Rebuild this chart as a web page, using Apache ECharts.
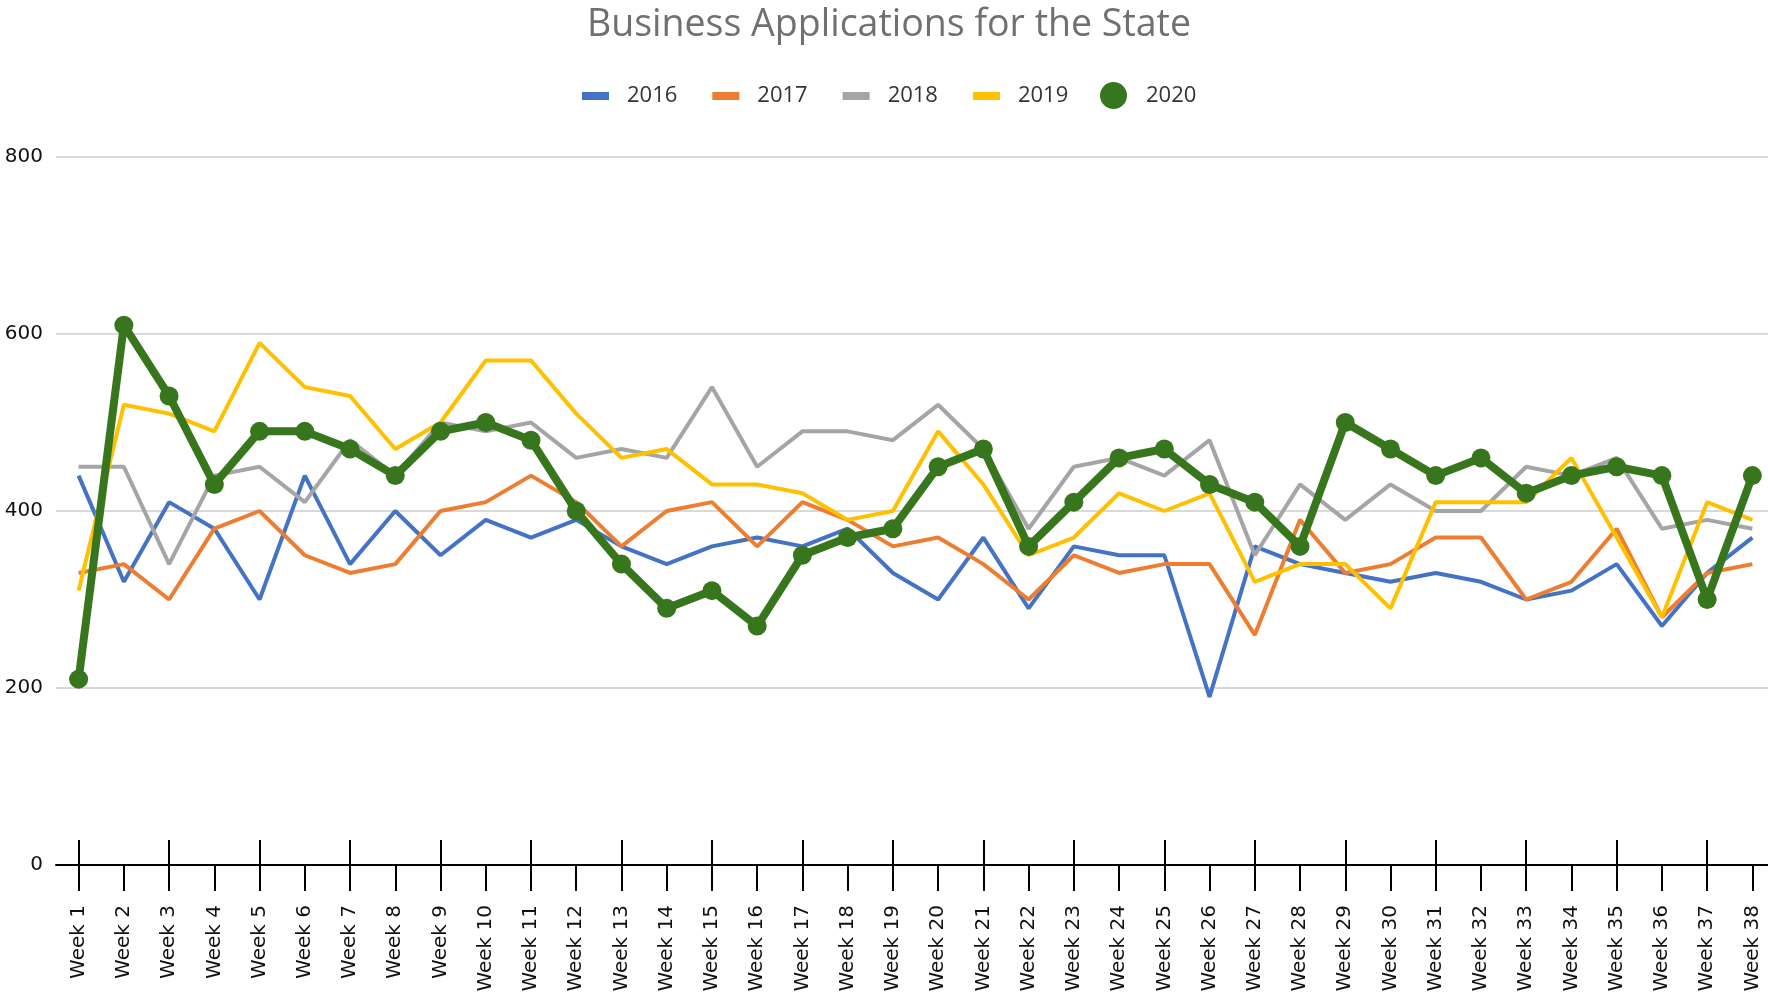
<!DOCTYPE html>
<html>
<head>
<meta charset="utf-8">
<title>Business Applications for the State</title>
<script src="https://cdn.jsdelivr.net/npm/echarts@6/dist/echarts.min.js"></script>
<style>
    html,
    body {
        margin: 0;
        padding: 0;
        background: #fff;
    }
    #chart {
        width: 1768px;
        height: 994px;
    }
</style>
</head>
<body>
<div id="chart"></div>
<script>
// x轴 分类
let weeks = ["Week 1", "Week 2", "Week 3", "Week 4", "Week 5", "Week 6", "Week 7", "Week 8", "Week 9", "Week 10",
    "Week 11", "Week 12", "Week 13", "Week 14", "Week 15", "Week 16", "Week 17", "Week 18", "Week 19", "Week 20",
    "Week 21", "Week 22", "Week 23", "Week 24", "Week 25", "Week 26", "Week 27", "Week 28", "Week 29", "Week 30",
    "Week 31", "Week 32", "Week 33", "Week 34", "Week 35", "Week 36", "Week 37", "Week 38"];

// 每年的数据
let data2016 = [440, 320, 410, 380, 300, 440, 340, 400, 350, 390, 370, 390, 360, 340, 360, 370, 360, 380, 330,
    300, 370, 290, 360, 350, 350, 190, 360, 340, 330, 320, 330, 320, 300, 310, 340, 270, 330, 370];
let data2017 = [330, 340, 300, 380, 400, 350, 330, 340, 400, 410, 440, 410, 360, 400, 410, 360, 410, 390, 360,
    370, 340, 300, 350, 330, 340, 340, 260, 390, 330, 340, 370, 370, 300, 320, 380, 280, 330, 340];
let data2018 = [450, 450, 340, 440, 450, 410, 480, 440, 500, 490, 500, 460, 470, 460, 540, 450, 490, 490, 480,
    520, 470, 380, 450, 460, 440, 480, 350, 430, 390, 430, 400, 400, 450, 440, 460, 380, 390, 380];
let data2019 = [310, 520, 510, 490, 590, 540, 530, 470, 500, 570, 570, 510, 460, 470, 430, 430, 420, 390, 400,
    490, 430, 350, 370, 420, 400, 420, 320, 340, 340, 290, 410, 410, 410, 460, 370, 280, 410, 390];
let data2020 = [210, 610, 530, 430, 490, 490, 470, 440, 490, 500, 480, 400, 340, 290, 310, 270, 350, 370, 380,
    450, 470, 360, 410, 460, 470, 430, 410, 360, 500, 470, 440, 460, 420, 440, 450, 440, 300, 440];

// y轴刻度
let yTicks = [0, 200, 400, 600, 800];

let colors = {
    "2016": "#4472C4",
    "2017": "#ED7D31",
    "2018": "#A5A5A5",
    "2019": "#FFC000",
    "2020": "#38761D"
};

let myChart = echarts.init(document.getElementById("chart"), null, { renderer: "canvas" });

// 细线系列
function thinLine(name, data) {
    return {
        name: name,
        type: "line",
        data: data,
        color: colors[name],
        showSymbol: false,
        symbol: "none",
        lineStyle: { width: 4, color: colors[name] }
    };
}

let option = {
    animation: false,
    backgroundColor: "#fff",
    title: {
        text: "Business Applications for the State",
        left: 582,
        top: 1,
        textStyle: {
            fontFamily: "Open Sans",
            fontSize: 37.5,
            fontWeight: "normal",
            color: "#707070"
        }
    },
    legend: [
        {
            data: ["2016", "2017", "2018", "2019"].map(function (n) {
                return { name: n, icon: "rect" };
            }),
            left: 577,
            top: 80,
            itemWidth: 27,
            itemHeight: 8,
            itemGap: 35,
            selectedMode: false,
            textStyle: {
                fontFamily: "Open Sans",
                fontSize: 22,
                color: "#333333",
                padding: [0, 0, 0, 13]
            }
        },
        {
            data: [{ name: "2020", icon: "circle" }],
            left: 1095,
            top: 77,
            itemWidth: 27,
            itemHeight: 27,
            selectedMode: false,
            textStyle: {
                fontFamily: "Open Sans",
                fontSize: 22,
                color: "#333333",
                padding: [0, 0, 0, 14]
            }
        }
    ],
    grid: {
        left: 56,
        top: 157,
        width: 1719,
        height: 708,
        containLabel: false,
        outerBoundsMode: "none"
    },
    xAxis: [
        {
            type: "category",
            data: weeks,
            position: "bottom",
            boundaryGap: true,
            axisLine: { show: true, lineStyle: { color: "#000", width: 2 } },
            axisTick: { show: true, alignWithLabel: true, length: 26, lineStyle: { color: "#000", width: 2 } },
            axisLabel: {
                rotate: 90,
                margin: 40,
                interval: 0,
                fontFamily: "DejaVu Sans",
                fontSize: 20,
                color: "#111111"
            },
            splitLine: { show: false }
        },
        {
            // 向上的刻度（穿过坐标轴）
            type: "category",
            data: weeks,
            position: "bottom",
            offset: 0,
            boundaryGap: true,
            axisLine: { show: false },
            axisTick: { show: true, inside: true, alignWithLabel: true, length: 25, lineStyle: { color: "#000", width: 2 } },
            axisLabel: { show: false },
            splitLine: { show: false }
        }
    ],
    yAxis: {
        type: "value",
        min: yTicks[0],
        max: yTicks[yTicks.length - 1],
        interval: yTicks[1] - yTicks[0],
        axisLine: { show: false },
        axisTick: { show: false },
        axisLabel: {
            margin: 13,
            fontFamily: "DejaVu Sans",
            fontSize: 20,
            color: "#111111"
        },
        splitLine: { lineStyle: { color: "#D9D9D9", width: 2 } }
    },
    series: [
        thinLine("2016", data2016),
        thinLine("2017", data2017),
        thinLine("2018", data2018),
        thinLine("2019", data2019),
        {
            name: "2020",
            type: "line",
            data: data2020,
            color: colors["2020"],
            symbol: "circle",
            symbolSize: 19,
            itemStyle: { color: colors["2020"] },
            lineStyle: { width: 8, color: colors["2020"], join: "round" }
        }
    ]
};

myChart.setOption(option, true);
</script>
</body>
</html>
